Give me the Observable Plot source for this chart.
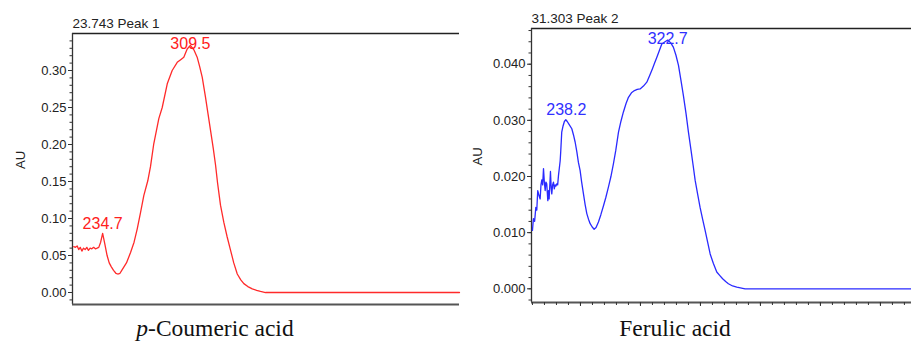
<!DOCTYPE html>
<html>
<head>
<meta charset="utf-8">
<script src="https://cdn.jsdelivr.net/npm/d3@7"></script>
<script src="https://cdn.jsdelivr.net/npm/@observablehq/plot@0.6"></script>
<style>
  html, body { margin: 0; padding: 0; background: #fff; }
  #wrap { position: relative; width: 911px; height: 341px; overflow: hidden; }
  .panel { position: absolute; top: 0; }
  .cap { position: absolute; top: 317px; font-family: "Liberation Serif", "Times New Roman", serif; font-size: 23.5px; line-height: 1; color: #111; white-space: nowrap; transform: translateX(-50%); }
</style>
</head>
<body>
<div id="wrap"></div>
<script>
// ---------- Panel 1: p-Coumeric acid ----------
const title1 = "23.743 Peak 1";
const caption1 = "p-Coumeric acid";
const nm1 = [210.1, 211.5, 213, 214.3, 215.6, 217, 218.4, 219.8, 221.2, 222.6, 224, 225.5, 227, 228.5, 230, 231.4, 233, 234.7, 236.5, 238.5, 240.3, 242, 244, 246, 247.6, 249.5, 251.4, 255, 258.5, 261.5, 264.2, 267, 269.8, 273.2, 275.5, 278.3, 282.6, 285.5, 289.8, 294, 298.3, 301.5, 303.9, 306.8, 309.5, 312.5, 315.3, 317.5, 319.6, 322.4, 324.5, 326.7, 329, 331, 332.7, 335.2, 338, 340.9, 343.8, 346.5, 349.5, 352.5, 355.1, 358.5, 362.3, 366, 369.3, 373.6, 400, 450, 500, 539];
const au1 = [0.062, 0.061, 0.063, 0.058, 0.061, 0.056, 0.060, 0.058, 0.061, 0.057, 0.060, 0.059, 0.061, 0.059, 0.060, 0.061, 0.068, 0.080, 0.066, 0.050, 0.040, 0.035, 0.030, 0.026, 0.025, 0.026, 0.031, 0.040, 0.054, 0.068, 0.086, 0.108, 0.131, 0.151, 0.170, 0.201, 0.235, 0.250, 0.282, 0.300, 0.311, 0.315, 0.318, 0.329, 0.334, 0.328, 0.318, 0.305, 0.291, 0.264, 0.242, 0.219, 0.195, 0.172, 0.148, 0.118, 0.095, 0.075, 0.057, 0.040, 0.025, 0.017, 0.012, 0.008, 0.005, 0.003, 0.0015, 0, 0, 0, 0, 0];
const peakNm1 = [234.7, 309.5];
const peakAu1 = [0.080, 0.334];
const peakDy1 = [-4, 3.5];
const xDomain1 = [209, 539];
const yDomain1 = [-0.0162, 0.350];
const yMajor1 = [0, 0.05, 0.10, 0.15, 0.20, 0.25, 0.30];
const yMinor1 = d3.range(-0.01, 0.345, 0.01);

// ---------- Panel 2: Ferulic acid ----------
const title2 = "31.303 Peak 2";
const caption2 = "Ferulic acid";
const nm2 = [210, 210.8, 211.8, 212.8, 213.6, 214.4, 215.6, 216.4, 217.1, 217.8, 218.5, 219.2, 219.9, 220.6, 221.2, 221.9, 222.8, 223.4, 223.9, 225, 225.6, 226.1, 226.8, 227.5, 228.2, 228.9, 229.6, 230.3, 231, 231.7, 233.1, 233.6, 234.4, 235.5, 236.6, 237.8, 239, 240.5, 242.8, 244.2, 245.6, 247, 248.3, 249.7, 251, 252.5, 253.9, 255.3, 256.7, 258.1, 259.8, 261.4, 263, 265, 267, 269.2, 271.2, 273.3, 275.4, 277.5, 279.4, 281.7, 283.7, 285.8, 288, 290, 292.5, 295, 297.3, 299.7, 302.5, 305.3, 307.7, 310, 311.8, 313.6, 315.7, 317.8, 320.5, 322.7, 325.3, 327.5, 329.6, 331.7, 333.7, 335.8, 338, 340, 342.2, 343.9, 345.6, 347.7, 349.7, 351.8, 353.9, 356, 358.1, 360.8, 363.6, 366, 368.5, 371, 373.3, 376.8, 380.3, 387.2, 450, 500, 526];
const au2 = [0.0104, 0.0125, 0.0120, 0.0145, 0.0140, 0.0175, 0.0165, 0.0160, 0.0185, 0.0194, 0.0185, 0.0214, 0.0190, 0.0175, 0.0190, 0.0187, 0.0157, 0.0175, 0.0160, 0.0209, 0.0180, 0.0169, 0.0185, 0.0190, 0.0178, 0.0185, 0.0183, 0.0187, 0.0185, 0.0202, 0.0228, 0.0246, 0.0279, 0.0290, 0.0298, 0.0301, 0.0298, 0.0293, 0.0285, 0.0274, 0.0261, 0.0244, 0.0225, 0.0211, 0.0190, 0.0169, 0.0150, 0.0134, 0.0124, 0.0116, 0.0110, 0.0106, 0.0109, 0.0119, 0.0132, 0.0148, 0.0163, 0.0181, 0.0200, 0.0223, 0.0246, 0.0279, 0.0298, 0.0315, 0.0330, 0.0341, 0.0349, 0.0353, 0.0355, 0.0356, 0.0361, 0.0368, 0.0380, 0.0392, 0.0402, 0.0412, 0.0424, 0.0436, 0.0440, 0.0443, 0.0438, 0.0430, 0.0416, 0.0398, 0.0372, 0.0344, 0.0312, 0.0279, 0.0246, 0.0220, 0.0193, 0.0168, 0.0145, 0.0124, 0.0104, 0.0083, 0.0062, 0.0045, 0.0030, 0.0024, 0.0018, 0.0013, 0.0009, 0.0005, 0.0003, 0, 0, 0, 0];
const peakNm2 = [238.2, 322.7];
const peakAu2 = [0.0301, 0.0443];
const peakDy2 = [-5, 3.7];
const xDomain2 = [209.2, 525.9];
const yDomain2 = [-0.00244, 0.04636];
const yMajor2 = [0, 0.010, 0.020, 0.030, 0.040];
const yMinor2 = d3.range(-0.002, 0.0461, 0.002);
const xMajor2 = [250, 300, 350, 400, 450, 500];
const xMinor2 = d3.range(210, 521, 10);

const yLabel = "AU";

function panel(o) {
  const data = o.nm.map((d, i) => ({nm: d, au: o.au[i]}));
  const marks = [
    Plot.ruleY([o.yDomain[1]], {stroke: "#222", strokeWidth: 1.3}),
    Plot.ruleX([o.xDomain[0]], {stroke: "#333", strokeWidth: 1.3}),
    Plot.ruleY([o.yDomain[0]], {stroke: "#555", strokeWidth: 2}),
    Plot.axisY({ticks: o.yMinor, tickSize: 2.5, tickFormat: () => "", label: null, stroke: "#333"}),
    Plot.axisY({ticks: o.yMajor, tickSize: 4, tickPadding: 2, tickFormat: d3.format(o.fmt), label: null, fontSize: 13, fill: "#222", stroke: "#333"}),
    Plot.line(data, {x: "nm", y: "au", stroke: o.color, strokeWidth: 1.3}),
    Plot.text([o.title], {frameAnchor: "top-left", textAnchor: "start", lineAnchor: "bottom", dy: o.titleDy, fontSize: 13.5, fill: "#222"}),
    Plot.text([yLabel], {frameAnchor: "left", rotate: -90, dx: o.auDx, fontSize: 13, fill: "#222"}),
    ...o.peakNm.map((p, i) => Plot.text([p], {x: d => d, y: () => o.peakAu[i], text: d => d.toFixed(1), lineAnchor: "bottom", dy: o.peakDy[i], fontSize: 16, fill: o.labelColor}))
  ];
  if (o.xMajor) {
    marks.push(Plot.axisX({ticks: o.xMinor, tickSize: 3, tickFormat: () => "", label: null, stroke: "#333", anchor: "bottom"}));
    marks.push(Plot.axisX({ticks: o.xMajor, tickSize: 4, tickFormat: () => "", label: null, stroke: "#333", anchor: "bottom"}));
  }
  return Plot.plot({
    width: o.width,
    height: 310,
    marginLeft: o.marginLeft,
    marginRight: o.marginRight,
    marginTop: o.marginTop,
    marginBottom: 310 - o.bottom,
    style: {fontFamily: "'Liberation Sans', Arial, sans-serif", fontSize: "13px", color: "#222", background: "transparent", overflow: "visible"},
    x: {domain: o.xDomain, axis: null},
    y: {domain: o.yDomain, axis: null},
    marks
  });
}

const wrap = document.getElementById("wrap");

const p1 = panel({nm: nm1, au: au1, peakNm: peakNm1, peakAu: peakAu1, peakDy: peakDy1, xDomain: xDomain1, yDomain: yDomain1,
  yMajor: yMajor1, yMinor: yMinor1, fmt: ".2f", color: "#ff2a2a", labelColor: "#ff2020", title: title1, titleDy: -6, auDx: -52,
  width: 460, marginLeft: 72, marginRight: 1, marginTop: 33, bottom: 304});
const d1 = document.createElement("div"); d1.className = "panel"; d1.style.left = "0px"; d1.appendChild(p1); wrap.appendChild(d1);

const p2 = panel({nm: nm2, au: au2, peakNm: peakNm2, peakAu: peakAu2, peakDy: peakDy2, xDomain: xDomain2, yDomain: yDomain2,
  yMajor: yMajor2, yMinor: yMinor2, xMajor: xMajor2, xMinor: xMinor2, fmt: ".3f", color: "#2a2aff", labelColor: "#3030ff", title: title2, titleDy: -5.3, auDx: -54,
  width: 451, marginLeft: 71, marginRight: 0, marginTop: 28, bottom: 302});
const d2 = document.createElement("div"); d2.className = "panel"; d2.style.left = "460px"; d2.appendChild(p2); wrap.appendChild(d2);

function addCaption(parts, cx) {
  const c = document.createElement("div");
  c.className = "cap";
  c.style.left = cx + "px";
  parts.forEach(([t, it]) => {
    const s = document.createElement("span");
    s.textContent = t;
    if (it) s.style.fontStyle = "italic";
    c.appendChild(s);
  });
  wrap.appendChild(c);
}
addCaption([[caption1.slice(0, 1), true], [caption1.slice(1), false]], 215);
addCaption([[caption2, false]], 675);
</script>
</body>
</html>
